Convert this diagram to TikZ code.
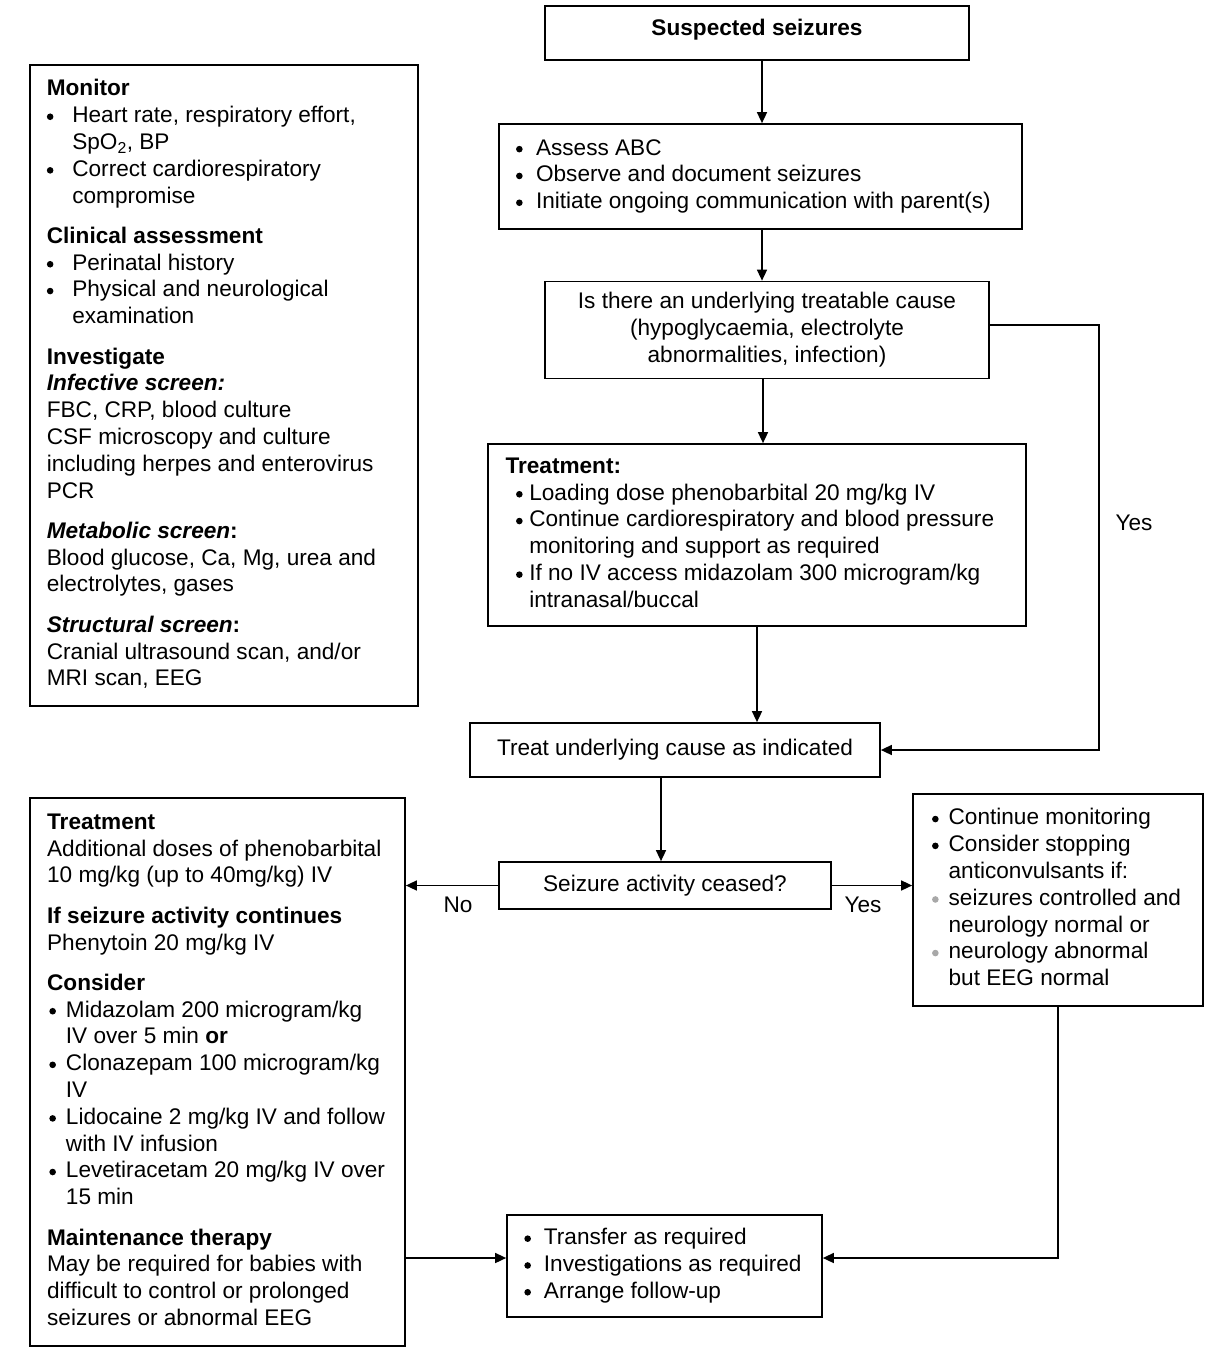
\documentclass[tikz,border=0pt]{standalone}
\usepackage{fontspec}
\setmainfont{Liberation Sans}
\usetikzlibrary{arrows.meta}
\definecolor{bulgray}{gray}{0.66}
\newcommand\fs{\fontsize{22.6bp}{26.8bp}\selectfont}
\newcommand\dotmark[1]{\tikz[baseline=0pt]\fill[#1] (3.3bp,5.9bp) circle (3.3bp);}
\newcommand\bul[1]{\makebox[#1][l]{\dotmark{black}}}
\newcommand\gbul[1]{\makebox[#1][l]{\dotmark{bulgray}}}
\begin{document}
\begin{tikzpicture}[x=1bp,y=-1bp,
  box/.style={draw, line width=1.7bp, rectangle, inner sep=0pt, font=\fs},
  txt/.style={inner sep=0pt, anchor=west, font=\fs},
  lbl/.style={inner sep=0pt, font=\fs},
  arr/.style={line width=1.5bp, -{Triangle[length=11bp,width=10bp]}}]
\useasboundingbox (0,0) rectangle (1220,1367);
\fill[white] (0,0) rectangle (1220,1367);

% ---- boxes ----
\node[box, minimum width=424bp, minimum height=54bp, font=\fs\bfseries, text height=16bp, text depth=10bp] (b1) at (757,33) {Suspected seizures};
\node[box, minimum width=523bp, minimum height=105bp] (b2) at (760.5,176.5) {};
\node[box, minimum width=444bp, minimum height=97bp] (b3) at (767,330) {\begin{tabular}{@{}c@{}}Is there an underlying treatable cause\\(hypoglycaemia, electrolyte\\abnormalities, infection)\end{tabular}};
\node[box, minimum width=538bp, minimum height=182bp] (b4) at (757,535) {};
\node[box, minimum width=410bp, minimum height=54bp] (b5) at (675,750) {Treat underlying cause as indicated};
\node[box, minimum width=332bp, minimum height=47bp] (b6) at (665,885.5) {Seizure activity ceased?};
\node[box, minimum width=388bp, minimum height=641bp] (lt) at (224,385.5) {};
\node[box, minimum width=375bp, minimum height=548bp] (lb) at (217.5,1072) {};
\node[box, minimum width=290bp, minimum height=212bp] (rb) at (1058,900) {};
\node[box, minimum width=315bp, minimum height=102bp] (bt) at (664.5,1266) {};

% ---- box texts ----
\node[txt, xshift=17.7bp] (t2) at (b2.west) {\begin{tabular}{@{}l@{}}
\bul{20bp}Assess ABC\\
\bul{20bp}Observe and document seizures\\
\bul{20bp}Initiate ongoing communication with parent(s)
\end{tabular}};

\node[txt, xshift=18.2bp] (t4) at (b4.west) {\begin{tabular}{@{}l@{}}
\textbf{Treatment:}\\
\hspace*{10.5bp}\bul{13.3bp}Loading dose phenobarbital 20 mg/kg IV\\
\hspace*{10.5bp}\bul{13.3bp}Continue cardiorespiratory and blood pressure\\
\hspace*{23.8bp}monitoring and support as required\\
\hspace*{10.5bp}\bul{13.3bp}If no IV access midazolam 300 microgram/kg\\
\hspace*{23.8bp}intranasal/buccal
\end{tabular}};

\node[txt, xshift=17.5bp] (tlt) at (lt.west) {\begin{tabular}{@{}l@{}}
\textbf{Monitor}\\
\bul{25.5bp}Heart rate, respiratory effort,\\
\hspace*{25.5bp}SpO\textsubscript{2}, BP\\
\bul{25.5bp}Correct cardiorespiratory\\
\hspace*{25.5bp}compromise\\[13.5bp]
\textbf{Clinical assessment}\\
\bul{25.5bp}Perinatal history\\
\bul{25.5bp}Physical and neurological\\
\hspace*{25.5bp}examination\\[13.5bp]
\textbf{Investigate}\\
\textbf{\textit{Infective screen:}}\\
FBC, CRP, blood culture\\
CSF microscopy and culture\\
including herpes and enterovirus\\
PCR\\[13.5bp]
\textbf{\textit{Metabolic screen}:}\\
Blood glucose, Ca, Mg, urea and\\
electrolytes, gases\\[13.5bp]
\textbf{\textit{Structural screen}:}\\
Cranial ultrasound scan, and/or\\
MRI scan, EEG
\end{tabular}};

\node[txt, xshift=17.8bp] (tlb) at (lb.west) {\begin{tabular}{@{}l@{}}
\textbf{Treatment}\\
Additional doses of phenobarbital\\
10 mg/kg (up to 40mg/kg) IV\\[13.5bp]
\textbf{If seizure activity continues}\\
Phenytoin 20 mg/kg IV\\[13.5bp]
\textbf{Consider}\\
\hspace*{2.2bp}\bul{16.6bp}Midazolam 200 microgram/kg\\
\hspace*{18.8bp}IV over 5 min \textbf{or}\\
\hspace*{2.2bp}\bul{16.6bp}Clonazepam 100 microgram/kg\\
\hspace*{18.8bp}IV\\
\hspace*{2.2bp}\bul{16.6bp}Lidocaine 2 mg/kg IV and follow\\
\hspace*{18.8bp}with IV infusion\\
\hspace*{2.2bp}\bul{16.6bp}Levetiracetam 20 mg/kg IV over\\
\hspace*{18.8bp}15 min\\[13.5bp]
\textbf{Maintenance therapy}\\
May be required for babies with\\
difficult to control or prolonged\\
seizures or abnormal EEG
\end{tabular}};

\node[txt, xshift=19.7bp] (trb) at (rb.west) {\begin{tabular}{@{}l@{}}
\bul{16.6bp}Continue monitoring\\
\bul{16.6bp}Consider stopping\\
\hspace*{16.6bp}anticonvulsants if:\\
\gbul{16.6bp}seizures controlled and\\
\hspace*{16.6bp}neurology normal or\\
\gbul{16.6bp}neurology abnormal\\
\hspace*{16.6bp}but EEG normal
\end{tabular}};

\node[txt, xshift=18bp] (tbt) at (bt.west) {\begin{tabular}{@{}l@{}}
\bul{19.6bp}Transfer as required\\
\bul{19.6bp}Investigations as required\\
\bul{19.6bp}Arrange follow-up
\end{tabular}};

% ---- helper coordinates ----
\coordinate (x762) at (762,0);
\coordinate (x763) at (763,0);
\coordinate (x757) at (757,0);
\coordinate (x661) at (661,0);
\coordinate (yesx) at (1099,500);
\coordinate (yb) at (0,1258);

% ---- connectors ----
\draw[arr] (x762 |- b1.south) -- (x762 |- b2.north);
\draw[arr] (x762 |- b2.south) -- (x762 |- b3.north);
\draw[arr] (x763 |- b3.south) -- (x763 |- b4.north);
\draw[arr] (x757 |- b4.south) -- (x757 |- b5.north);
\draw[arr] ([yshift=5bp]b3.east) -| (yesx) |- (b5.east);
\draw[arr] (x661 |- b5.south) -- (x661 |- b6.north);
\draw[arr] (b6.west) -- (lb.east |- b6.west);
\draw[arr] (b6.east) -- (rb.west |- b6.east);
\draw[arr] (lb.east |- yb) -- (bt.west |- yb);
\draw[arr] (rb.south) |- (bt.east |- yb);

% ---- labels ----
\node[lbl] (yes1) at (1134,523) {Yes};
\node[lbl] (no1) at (458,905) {No};
\node[lbl] (yes2) at (863,905) {Yes};
\end{tikzpicture}
\end{document}
